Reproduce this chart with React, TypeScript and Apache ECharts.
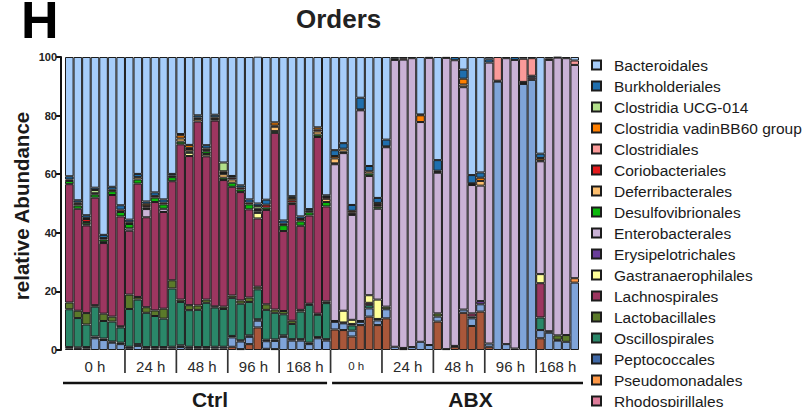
import React, { useEffect, useRef } from "react";
import * as echarts from "echarts";

const FONT = "'Liberation Sans', Arial, Helvetica, sans-serif";

// Study design: two treatment groups, five sampling times, mice per time point
const groups = ["Ctrl", "ABX"];
const timepoints = ["0 h", "24 h", "48 h", "96 h", "168 h"];
const micePerTimepoint = [7, 6, 6, 6, 6, 6, 6, 6, 6, 5];

// Relative abundance (%) of each order per sample, 60 samples (Ctrl 0-30, ABX 31-59)
const others = [
  0, 0, 0, 0, 0, 0, 0, 0, 0, 0,
  0, 0, 0, 0, 0, 0, 0, 0, 0, 1.1,
  0.3, 2, 7.7, 0.4, 0.3, 0, 0, 0, 0, 0,
  0, 7, 6.8, 4.6, 8.5, 11.4, 8.5, 10.8, 0, 0.3,
  0, 0, 0, 9.7, 0, 1.1, 12.7, 8.2, 13.1, 1.1,
  0, 0, 0.5, 0, 0, 4, 0, 0, 0, 0,
];
const verrucomicrobiales = [
  0.5, 0.4, 0.5, 4, 3.4, 2.5, 2, 0.6, 1.4, 0.5,
  0.5, 0.5, 0.5, 1, 0.6, 0.5, 0.5, 0.5, 0.5, 3.2,
  2.6, 2.5, 2.3, 2.6, 2.8, 4.5, 3.2, 3.2, 2, 4,
  3.2, 2.6, 2.3, 2, 1.1, 2.8, 1.6, 3.1, 1.1, 0.4,
  1, 2.8, 1.7, 1.7, 0.3, 0.3, 1.1, 2.6, 2.5, 1.1,
  91.6, 2, 0, 90.8, 92.2, 2.8, 5.9, 3.2, 2.8, 23,
];
const rhodospirillales = [
  0, 0, 0, 0, 0, 0, 0, 0, 0, 0,
  0, 0, 0, 0, 0, 0, 0, 0, 0, 0,
  0, 0, 0, 0, 0, 0, 0, 0, 0, 0,
  0, 0, 0, 0, 0, 0, 0, 0, 0, 0,
  0, 0, 0, 0, 0, 0, 0, 0, 0, 0,
  0.3, 0, 0, 0.4, 0.7, 0, 0, 0, 0, 0,
];
const pseudomonadales = [
  0, 0, 0, 0, 0, 0, 0, 0, 0, 0,
  0, 0, 0, 0, 0, 0, 0, 0, 0, 0,
  0, 0, 0, 0, 0, 0, 0, 0, 0, 0,
  0, 0, 0, 0, 0, 0, 0, 0, 0, 0,
  0, 0, 0, 0, 0, 0, 0, 0, 0, 0,
  0, 0, 0, 0, 0, 0, 0, 0, 0, 1.5,
];
const peptococcales = [
  0.5, 0.5, 0.5, 0.6, 0.5, 0.4, 0.5, 0.5, 0.6, 0.5,
  0.5, 0.5, 0.6, 0.6, 0.5, 0.5, 0.5, 0.6, 0.6, 0.5,
  0.4, 0.5, 0.5, 0.5, 0.5, 0.5, 0.5, 0.5, 0.5, 0.4,
  0.5, 0.3, 0.3, 0, 0.3, 0, 0.5, 0, 0, 0,
  0, 0, 0, 0, 0, 0, 0, 0, 0, 0,
  0, 0, 0, 0.3, 0.7, 0, 0.5, 0.3, 0, 0,
];
const oscillospirales = [
  12.9, 10, 7.7, 10.2, 6, 6.8, 5.2, 12.9, 15.2, 11.7,
  10.6, 9.7, 19.9, 14.8, 12.5, 12.7, 15.1, 13.4, 12.9, 13,
  12.5, 11.4, 10.2, 10.2, 9.1, 7.2, 5.2, 9.4, 12.9, 7.6,
  12.3, 0, 0, 1.8, 0, 1.1, 0, 0, 0, 0,
  0, 0, 0, 0, 0, 0, 0, 0.6, 0, 0,
  0, 0, 0, 0, 0, 4.3, 0, 0, 0, 0,
];
const lactobacillales = [
  2.3, 2.5, 3.9, 0.5, 2.5, 1.7, 0.4, 4.9, 0.9, 1.9,
  1.9, 3.4, 2.8, 0.8, 1.7, 1.5, 1.1, 0.4, 0.8, 0.8,
  1.1, 1.5, 0.9, 1.9, 1.1, 1.1, 1.1, 0.6, 0.4, 0.4,
  0.6, 0, 0, 0, 0, 0, 0, 0.9, 0, 0,
  0, 0, 0, 1.1, 0, 0, 0, 0, 0, 0,
  0, 0, 0, 0, 0, 0, 0, 1.5, 2.3, 0,
];
const lachnospirales = [
  40.4, 34.8, 29.9, 36.7, 24.1, 41.5, 37.5, 21.8, 38.7, 30.7,
  37, 33, 33.8, 53, 50.9, 62.8, 48.9, 63.4, 43.2, 37.1,
  37, 30.1, 23.3, 32.2, 60.3, 27.3, 39.8, 28.7, 30.1, 60.3,
  32.4, 0, 0, 0.5, 0, 0.8, 0, 0, 0, 0,
  0, 0, 0, 0, 0, 0, 0, 1.1, 0, 0,
  0, 0, 0, 0, 0, 11.7, 0, 0, 0, 0,
];
const gastranaerophilales = [
  0, 0, 0, 0, 0, 0, 0, 0, 0, 0,
  0, 0, 0, 0, 1.1, 0, 0.8, 0, 0, 0,
  0, 0, 1.9, 0, 0, 0, 0, 0, 0, 0,
  0, 0, 4, 1.4, 0, 2.6, 6.6, 0, 0, 0,
  0, 0, 0, 0, 0, 0, 0, 0, 0, 0,
  0, 0, 0, 0, 0, 3.1, 0, 0, 0, 0,
];
const erysipelotrichales = [
  0, 0, 0.4, 0, 0.4, 0, 0, 0, 0, 0,
  0, 0, 0, 0, 0, 0, 0, 0, 0, 0,
  0, 0, 0, 0, 0, 0, 0, 0, 0, 0,
  0, 0, 0, 0, 0, 0, 0, 0, 0, 0,
  0, 0, 0, 0, 0, 0, 0, 0, 1.1, 0,
  0, 0, 0, 0, 0, 0, 0, 0, 0, 0,
];
const enterobacterales = [
  0, 0, 0, 0, 0, 0, 0, 0.8, 0, 2.8,
  0, 1.1, 0, 0, 0, 0, 0, 0, 0, 0,
  0, 0, 0.5, 0, 0, 0, 0, 0, 0, 0,
  0, 53.5, 53.8, 35.8, 71.9, 40.7, 31, 54.4, 97.9, 98.4,
  98.6, 75, 98, 48, 99.4, 97.5, 75.9, 43.8, 39.4, 95.9,
  0, 97.6, 98.5, 0, 0, 38.5, 92.6, 94.8, 94.5, 72.8,
];
const desulfovibrionales = [
  1.1, 1.1, 0.8, 1.1, 0.8, 1.3, 1.5, 1.5, 1.4, 0.5,
  1.5, 1.5, 1.4, 0.9, 0.5, 0, 0.9, 0, 0.8, 1.4,
  0.9, 1.7, 0.5, 0.8, 0.6, 2, 0.5, 1.5, 1.1, 0.8,
  1.5, 0.3, 0.5, 0.4, 0.3, 0.8, 0.7, 0.3, 0, 0,
  0, 0, 0, 0.3, 0, 0, 0, 0.3, 0, 0,
  0, 0, 0, 0, 0, 0.3, 0, 0, 0, 0,
];
const deferribacterales = [
  0, 0.6, 0, 0, 0, 0, 0, 0, 0.8, 0,
  0, 0, 0, 1.1, 0.8, 0.8, 0.4, 0, 1.2, 1.1,
  0, 0, 0, 0, 1.5, 0, 0, 0, 0, 1.1,
  1.1, 1.7, 1, 0, 0, 0.8, 0, 0, 0, 0,
  0, 0, 0, 0, 0, 0, 0.9, 0, 1.6, 0,
  0, 0, 0, 0, 0, 0, 0, 0, 0, 0,
];
const coriobacteriales = [
  0.5, 0.4, 1, 0.4, 0.5, 0.5, 0.8, 0.6, 0, 0.5,
  0.6, 0.6, 0.5, 0, 0.4, 0.5, 0, 0.5, 0.4, 0.6,
  0.6, 0.6, 0.4, 1, 0.4, 0.5, 0.8, 0.8, 0.5, 0.6,
  0.6, 0, 0, 0.4, 0, 0, 0.6, 0, 0.4, 0.4,
  0, 0, 0, 0.4, 0, 0, 0, 0.3, 0, 0,
  0, 0, 0, 0, 0, 0, 0.5, 0, 0, 0,
];
const clostridiales = [
  0, 0, 0, 0, 0, 0, 0, 0, 0, 0,
  0, 0, 0, 0, 0, 0, 0, 0, 0, 0,
  0, 0, 0, 0, 0, 0, 0, 0, 0, 0,
  0, 0, 0, 0, 0, 0, 0, 0, 0, 0,
  0, 0, 0, 0, 0, 0, 0, 0, 0, 0,
  8.1, 0, 0, 7.9, 6, 0, 0, 0, 0, 1.5,
];
const vadinBB60 = [
  0, 0, 0.4, 0, 0, 0, 0, 0, 0, 0.8,
  0, 0, 0, 1.1, 1, 0, 0.6, 0.6, 0.6, 0,
  0, 0, 0, 0, 1.1, 0, 0.8, 0, 0, 0.8,
  0, 0.8, 0, 0.6, 0, 0, 0.7, 0, 0, 0,
  0, 2.3, 0, 0, 0, 0, 2, 0, 1.1, 0,
  0, 0, 0, 0, 0, 0.8, 0, 0, 0, 0,
];
const ucg014 = [
  0, 0, 0, 1.1, 0, 0, 0, 0, 0, 0,
  0, 0, 0, 0, 0, 0, 0, 0, 3, 0,
  0, 0, 0.9, 0, 0, 0, 0, 0, 0, 0,
  0, 0, 0, 0, 0, 0, 0, 0, 0, 0,
  0, 0, 0, 0, 0, 0, 0, 0, 0, 0,
  0, 0, 0, 0, 0, 0, 0, 0, 0, 0,
];
const burkholderiales = [
  1.1, 0.8, 0.9, 0.8, 1.1, 1, 1.5, 0.9, 1.1, 0.8,
  1.2, 1.1, 0.6, 0.4, 0, 0.8, 1.1, 0.9, 0, 0.6,
  0.8, 1.1, 0.9, 1.7, 0, 1.1, 0.6, 0.9, 0.6, 0,
  0.6, 2, 1.9, 2, 4, 1.8, 1.7, 2.3, 0.6, 0.5,
  0.4, 0.3, 0.3, 3.6, 0.3, 1.1, 3.1, 2.8, 1.8, 1.1,
  0, 0.4, 1, 0, 0, 1.5, 0.5, 0.2, 0.4, 0,
];
const bacteroidales = [
  40.7, 48.9, 54, 44.6, 60.7, 44.3, 50.6, 55.5, 39.9, 49.3,
  46.2, 48.6, 39.9, 26.3, 30, 19.9, 30.1, 19.7, 36, 40.6,
  43.8, 48.6, 50.1, 48.7, 22.3, 55.8, 47.5, 54.4, 51.9, 24,
  47.2, 31.8, 29.4, 50.5, 13.9, 37.2, 48.1, 28.2, 0, 0,
  0, 19.6, 0, 35.2, 0, 0, 4.3, 40.3, 39.4, 0.8,
  0, 0, 0, 0.6, 0.4, 33, 0, 0, 0, 1.2,
];

// Stack order, bottom to top; the legend lists the same orders top to bottom
const orders = [
  { name: "Others", color: "#a9573a", values: others },
  { name: "Verrucomicrobiales", color: "#7fa4d9", values: verrucomicrobiales },
  { name: "Rhodospirillales", color: "#df7d9b", values: rhodospirillales },
  { name: "Pseudomonadales", color: "#ff9846", values: pseudomonadales },
  { name: "Peptococcales", color: "#3f68a6", values: peptococcales },
  { name: "Oscillospirales", color: "#2a8769", values: oscillospirales },
  { name: "Lactobacillales", color: "#5b7a2a", values: lactobacillales },
  { name: "Lachnospirales", color: "#9d3660", values: lachnospirales },
  { name: "Gastranaerophilales", color: "#ffff99", values: gastranaerophilales },
  { name: "Erysipelotrichales", color: "#6a3d9a", values: erysipelotrichales },
  { name: "Enterobacterales", color: "#cab2d6", values: enterobacterales },
  { name: "Desulfovibrionales", color: "#0cb80c", values: desulfovibrionales },
  { name: "Deferribacterales", color: "#fdbf6f", values: deferribacterales },
  { name: "Coriobacteriales", color: "#e31a1c", values: coriobacteriales },
  { name: "Clostridiales", color: "#fb9a99", values: clostridiales },
  { name: "Clostridia vadinBB60 group", color: "#ff7f00", values: vadinBB60 },
  { name: "Clostridia UCG-014", color: "#b2df8a", values: ucg014 },
  { name: "Burkholderiales", color: "#1f6fae", values: burkholderiales },
  { name: "Bacteroidales", color: "#a6cdfa", values: bacteroidales },
];

const legendOrders = [
  "Bacteroidales",
  "Burkholderiales",
  "Clostridia UCG-014",
  "Clostridia vadinBB60 group",
  "Clostridiales",
  "Coriobacteriales",
  "Deferribacterales",
  "Desulfovibrionales",
  "Enterobacterales",
  "Erysipelotrichales",
  "Gastranaerophilales",
  "Lachnospirales",
  "Lactobacillales",
  "Oscillospirales",
  "Peptococcales",
  "Pseudomonadales",
  "Rhodospirillales",
];

// One category per mouse sample, grouped by treatment and time point
const samples: string[] = [];
const groupStarts: number[] = [];
micePerTimepoint.forEach((n, k) => {
  const g = groups[Math.floor(k / timepoints.length)];
  const t = timepoints[k % timepoints.length];
  groupStarts.push(samples.length);
  for (let m = 1; m <= n; m++) samples.push(`${g} ${t} #${m}`);
});

export default function App() {
  const ref = useRef<HTMLDivElement>(null);

  useEffect(() => {
    document.body.style.margin = "0";
    const chart = echarts.init(ref.current!, null, { renderer: "svg" });

    chart.setOption({
      animation: false,
      grid: { left: 65, right: 232, top: 57, bottom: 57 },
      legend: {
        data: legendOrders,
        orient: "vertical",
        left: 591,
        top: 57,
        height: 700,
        padding: 0,
        itemGap: 5,
        itemWidth: 9,
        itemHeight: 9,
        icon: "rect",
        selectedMode: false,
        textStyle: {
          fontFamily: FONT,
          fontSize: 15.5,
          color: "#1a1a1a",
          lineHeight: 16,
          padding: [0, 0, 0, 8],
        },
      },
      xAxis: {
        type: "category",
        data: samples,
        axisLine: { show: false },
        axisTick: { show: false },
        axisLabel: { show: false },
        splitLine: { show: false },
      },
      yAxis: {
        type: "value",
        min: 0,
        max: 100,
        interval: 20,
        offset: 4,
        axisLine: { show: true, lineStyle: { color: "#111", width: 2 } },
        axisTick: { show: true, length: 5, lineStyle: { color: "#111", width: 2 } },
        axisLabel: {
          fontFamily: FONT,
          fontSize: 11,
          fontWeight: "bold",
          color: "#222",
          margin: 4,
        },
        splitLine: { show: false },
      },
      series: orders.map((o) => ({
        name: o.name,
        type: "bar",
        stack: "abundance",
        barCategoryGap: "0%",
        data: o.values.map((v) => (v === 0 ? "-" : v)),
        itemStyle: { color: o.color, borderColor: "#1c1c1c", borderWidth: 1 },
        emphasis: { disabled: true },
      })),
    });

    // Group separators and labels placed from the category axis positions
    const px = (i: number) => chart.convertToPixel({ xAxisIndex: 0 }, samples[i]) as number;
    const band = px(1) - px(0);
    const edge = (i: number) => (i < samples.length ? px(i) - band / 2 : px(samples.length - 1) + band / 2);
    const bottom = chart.convertToPixel({ yAxisIndex: 0 }, 0) as number;

    const graphics: any[] = [];
    groupStarts.forEach((s, k) => {
      const e = k + 1 < groupStarts.length ? groupStarts[k + 1] : samples.length;
      if (k > 0) {
        graphics.push({
          type: "line",
          shape: { x1: edge(s), y1: bottom, x2: edge(s), y2: bottom + 23 },
          style: { stroke: "#333", lineWidth: 1.7 },
        });
      }
      const small = k === timepoints.length;
      graphics.push({
        type: "text",
        x: (edge(s) + edge(e)) / 2,
        y: bottom + 16,
        style: {
          text: timepoints[k % timepoints.length],
          fontFamily: FONT,
          fontSize: small ? 11.5 : 15,
          fill: "#2a2a2a",
          align: "center",
          verticalAlign: "middle",
        },
      });
    });

    const split = groupStarts[timepoints.length];
    const spans = [
      { label: groups[0], x1: edge(0) - 2, x2: edge(split) - 3.5, shift: 15 },
      { label: groups[1], x1: edge(split) + 1.5, x2: edge(samples.length) + 4, shift: 13 },
    ];
    spans.forEach((sp) => {
      graphics.push({
        type: "line",
        shape: { x1: sp.x1, y1: bottom + 33, x2: sp.x2, y2: bottom + 33 },
        style: { stroke: "#111", lineWidth: 2.5 },
      });
      graphics.push({
        type: "text",
        x: (sp.x1 + sp.x2) / 2 + sp.shift,
        y: bottom + 49,
        style: {
          text: sp.label,
          fontFamily: FONT,
          fontSize: 21,
          fontWeight: "bold",
          fill: "#1a1a1a",
          align: "center",
          verticalAlign: "middle",
        },
      });
    });

    graphics.push(
      {
        type: "text",
        x: 21,
        y: 20,
        style: {
          text: "H",
          fontFamily: FONT,
          fontSize: 52,
          fontWeight: "bold",
          fill: "#000",
          align: "left",
          verticalAlign: "middle",
        },
      },
      {
        type: "text",
        x: 296,
        y: 19,
        style: {
          text: "Orders",
          fontFamily: FONT,
          fontSize: 26,
          fontWeight: "bold",
          fill: "#222",
          align: "left",
          verticalAlign: "middle",
        },
      },
      {
        type: "text",
        x: 21,
        y: 206,
        rotation: Math.PI / 2,
        style: {
          text: "relative Abundance",
          fontFamily: FONT,
          fontSize: 20.5,
          fontWeight: "bold",
          fill: "#1a1a1a",
          align: "center",
          verticalAlign: "middle",
        },
      }
    );

    chart.setOption({ graphic: graphics });

    return () => chart.dispose();
  }, []);

  return <div ref={ref} style={{ width: 811, height: 407 }} />;
}
